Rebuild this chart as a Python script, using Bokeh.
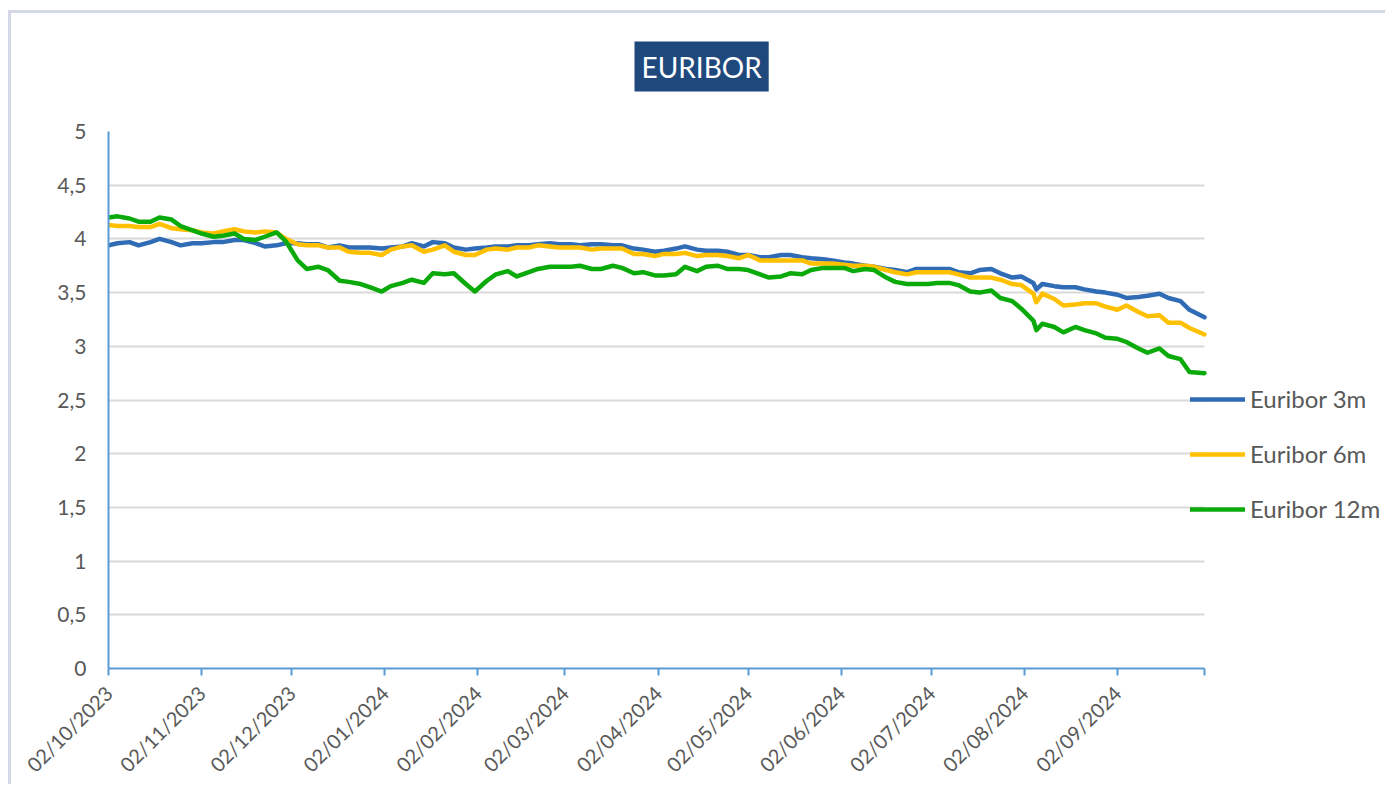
import math
import datetime as dt
from bokeh.plotting import figure
from bokeh.models import Range1d, FixedTicker, Legend, LegendItem, Title
from bokeh.embed import file_html
from bokeh.resources import INLINE

# ---------------- data ----------------
dates = [
    "2023-10-02", "2023-10-05", "2023-10-09", "2023-10-12", "2023-10-16", "2023-10-19",
    "2023-10-23", "2023-10-26", "2023-10-30", "2023-11-02", "2023-11-06", "2023-11-09",
    "2023-11-13", "2023-11-16", "2023-11-20", "2023-11-23", "2023-11-27", "2023-11-30",
    "2023-12-04", "2023-12-07", "2023-12-11", "2023-12-14", "2023-12-18", "2023-12-21",
    "2023-12-25", "2023-12-28", "2024-01-01", "2024-01-04", "2024-01-08", "2024-01-11",
    "2024-01-15", "2024-01-18", "2024-01-22", "2024-01-25", "2024-01-29", "2024-02-01",
    "2024-02-05", "2024-02-08", "2024-02-12", "2024-02-15", "2024-02-19", "2024-02-22",
    "2024-02-26", "2024-02-29", "2024-03-04", "2024-03-07", "2024-03-11", "2024-03-14",
    "2024-03-18", "2024-03-21", "2024-03-25", "2024-03-28", "2024-04-01", "2024-04-04",
    "2024-04-08", "2024-04-11", "2024-04-15", "2024-04-18", "2024-04-22", "2024-04-25",
    "2024-04-29", "2024-05-02", "2024-05-06", "2024-05-09", "2024-05-13", "2024-05-16",
    "2024-05-20", "2024-05-23", "2024-05-27", "2024-05-30", "2024-06-03", "2024-06-06",
    "2024-06-10", "2024-06-13", "2024-06-17", "2024-06-20", "2024-06-24", "2024-06-27",
    "2024-07-01", "2024-07-04", "2024-07-08", "2024-07-11", "2024-07-15", "2024-07-18",
    "2024-07-22", "2024-07-25", "2024-07-29", "2024-08-01", "2024-08-05", "2024-08-06",
    "2024-08-08", "2024-08-12", "2024-08-15", "2024-08-19", "2024-08-22", "2024-08-26",
    "2024-08-29", "2024-09-02", "2024-09-05", "2024-09-09", "2024-09-12", "2024-09-16",
    "2024-09-19", "2024-09-23", "2024-09-26", "2024-10-01",
]

euribor_3m = [
    3.94, 3.96, 3.97, 3.94, 3.97, 4.00, 3.97, 3.94, 3.96, 3.96, 3.97, 3.97,
    3.99, 3.99, 3.96, 3.93, 3.94, 3.96, 3.96, 3.95, 3.95, 3.92, 3.94, 3.92,
    3.92, 3.92, 3.91, 3.92, 3.93, 3.96, 3.93, 3.97, 3.96, 3.92, 3.90, 3.91,
    3.92, 3.93, 3.93, 3.94, 3.94, 3.95, 3.96, 3.95, 3.95, 3.94, 3.95, 3.95,
    3.94, 3.94, 3.91, 3.90, 3.88, 3.89, 3.91, 3.93, 3.90, 3.89, 3.89, 3.88,
    3.85, 3.85, 3.83, 3.83, 3.85, 3.85, 3.83, 3.82, 3.81, 3.80, 3.78, 3.77,
    3.75, 3.74, 3.72, 3.71, 3.69, 3.72, 3.72, 3.72, 3.72, 3.69, 3.68, 3.71,
    3.72, 3.68, 3.64, 3.65, 3.59, 3.53, 3.58, 3.56, 3.55, 3.55, 3.53, 3.51,
    3.50, 3.48, 3.45, 3.46, 3.47, 3.49, 3.45, 3.42, 3.34, 3.27,
]

euribor_6m = [
    4.13, 4.12, 4.12, 4.11, 4.11, 4.14, 4.10, 4.09, 4.08, 4.06, 4.05, 4.07,
    4.09, 4.07, 4.06, 4.07, 4.06, 4.00, 3.95, 3.94, 3.94, 3.92, 3.92, 3.88,
    3.87, 3.87, 3.85, 3.90, 3.93, 3.94, 3.88, 3.90, 3.94, 3.88, 3.85, 3.85,
    3.90, 3.91, 3.90, 3.92, 3.92, 3.94, 3.93, 3.92, 3.92, 3.92, 3.90, 3.91,
    3.91, 3.91, 3.86, 3.86, 3.84, 3.86, 3.86, 3.87, 3.84, 3.85, 3.85, 3.84,
    3.82, 3.85, 3.80, 3.80, 3.80, 3.80, 3.80, 3.77, 3.77, 3.77, 3.76, 3.75,
    3.75, 3.74, 3.71, 3.69, 3.67, 3.69, 3.69, 3.69, 3.69, 3.67, 3.64, 3.64,
    3.64, 3.62, 3.58, 3.57, 3.49, 3.41, 3.49, 3.44, 3.38, 3.39, 3.40, 3.40,
    3.37, 3.34, 3.38, 3.32, 3.28, 3.29, 3.22, 3.22, 3.17, 3.11,
]

euribor_12m = [
    4.20, 4.21, 4.19, 4.16, 4.16, 4.20, 4.18, 4.12, 4.08, 4.05, 4.02, 4.03,
    4.05, 4.00, 3.99, 4.02, 4.06, 3.98, 3.80, 3.72, 3.74, 3.71, 3.61, 3.60,
    3.58, 3.55, 3.51, 3.56, 3.59, 3.62, 3.59, 3.68, 3.67, 3.68, 3.58, 3.51,
    3.61, 3.67, 3.70, 3.65, 3.69, 3.72, 3.74, 3.74, 3.74, 3.75, 3.72, 3.72,
    3.75, 3.73, 3.68, 3.69, 3.66, 3.66, 3.67, 3.74, 3.70, 3.74, 3.75, 3.72,
    3.72, 3.71, 3.67, 3.64, 3.65, 3.68, 3.67, 3.71, 3.73, 3.73, 3.73, 3.70,
    3.72, 3.71, 3.64, 3.60, 3.58, 3.58, 3.58, 3.59, 3.59, 3.57, 3.51, 3.50,
    3.52, 3.45, 3.42, 3.35, 3.24, 3.15, 3.21, 3.18, 3.13, 3.18, 3.15, 3.12,
    3.08, 3.07, 3.04, 2.98, 2.94, 2.98, 2.91, 2.88, 2.76, 2.75,
]

series_names = ["Euribor 3m", "Euribor 6m", "Euribor 12m"]
series_colors = ["#2F6CB5", "#FFC000", "#0BAA0B"]

x_tick_labels = [
    "02/10/2023", "02/11/2023", "02/12/2023", "02/01/2024", "02/02/2024", "02/03/2024",
    "02/04/2024", "02/05/2024", "02/06/2024", "02/07/2024", "02/08/2024", "02/09/2024",
]
y_ticks = [0, 0.5, 1, 1.5, 2, 2.5, 3, 3.5, 4, 4.5, 5]
title_text = "EURIBOR"

# ---------------- helpers ----------------
EPOCH = dt.datetime(1970, 1, 1)


def to_dt(s):
    return dt.datetime.strptime(s, "%Y-%m-%d")


def to_ms(d):
    return (d - EPOCH).total_seconds() * 1000.0


x_vals = [to_dt(s) for s in dates]
tick_dts = [dt.datetime.strptime(s, "%d/%m/%Y") for s in x_tick_labels]
tick_ms = [to_ms(d) for d in tick_dts]
start_ms = to_ms(x_vals[0])
end_ms = to_ms(x_vals[-1])

AXIS_BLUE = "#5B9BD5"
TEXT_GREY = "#595959"
FONT = "Lato"

W, H = 1377, 774
DATA_PX = 1096      # width in px of the dated part of the plot area
EXTRA_PX = 181      # free room to the right of it, for the legend
range_end = end_ms + (end_ms - start_ms) * EXTRA_PX / DATA_PX

p = figure(
    width=W, height=H,
    x_axis_type="datetime",
    x_range=Range1d(start_ms, range_end),
    y_range=Range1d(0, 5),
    output_backend="svg",
    toolbar_location=None,
    min_border_left=97, min_border_right=3,
    min_border_top=118, min_border_bottom=119,
)
p.styles = {
    "border-top": "3px solid #D4D8E6",
    "border-left": "3px solid #D4D8E6",
    "margin-top": "10px",
    "margin-left": "8px",
}
p.outline_line_color = None
p.background_fill_color = "white"
p.border_fill_color = "white"

# spacer between the title box and the plot area
spacer = Title(text=" ", text_font_size="1px", standoff=32)
p.add_layout(spacer, "above")

# title
p.title.text = title_text
p.title.align = "left"
p.title.offset = 526
p.title.standoff = 10
p.title.text_color = "white"
p.title.text_font = FONT
p.title.text_font_style = "normal"
p.title.text_font_size = "28px"
p.title.background_fill_color = "#1F497D"
p.title.padding = dict(left=7, right=7, top=8, bottom=8)

# x axis
p.xaxis.bounds = (start_ms, end_ms)
p.xaxis.ticker = FixedTicker(ticks=tick_ms + [end_ms])
overrides = {ms: lab for ms, lab in zip(tick_ms, x_tick_labels)}
overrides[end_ms] = ""
p.xaxis.major_label_overrides = overrides
p.xaxis.major_label_orientation = math.pi / 4
p.xaxis.axis_line_color = AXIS_BLUE
p.xaxis.axis_line_width = 2
p.xaxis.major_tick_line_color = AXIS_BLUE
p.xaxis.major_tick_line_width = 2
p.xaxis.major_tick_in = 0
p.xaxis.major_tick_out = 7
p.xaxis.minor_tick_line_color = None
p.xaxis.major_label_text_font = FONT
p.xaxis.major_label_text_font_size = "20px"
p.xaxis.major_label_text_color = TEXT_GREY
p.xaxis.major_label_standoff = 14

# y axis
p.yaxis.ticker = FixedTicker(ticks=y_ticks)
p.yaxis.major_label_overrides = {t: (f"{t:g}").replace(".", ",") for t in y_ticks}
p.yaxis.axis_line_color = AXIS_BLUE
p.yaxis.axis_line_width = 2
p.yaxis.major_tick_line_color = None
p.yaxis.minor_tick_line_color = None
p.yaxis.major_label_text_font = FONT
p.yaxis.major_label_text_font_size = "21px"
p.yaxis.major_label_text_color = TEXT_GREY
p.yaxis.major_label_standoff = 16

# grid
p.xgrid.visible = False
p.ygrid.ticker = FixedTicker(ticks=y_ticks)
p.ygrid.grid_line_color = "#D9D9D9"
p.ygrid.grid_line_width = 2
p.ygrid.cross_bounds = (start_ms, end_ms)

# lines
renderers = []
for name, vals, col in zip(series_names, [euribor_3m, euribor_6m, euribor_12m], series_colors):
    r = p.line(x_vals, vals, line_color=col, line_width=4.5, line_join="round", line_cap="round")
    renderers.append(r)

legend = Legend(
    items=[LegendItem(label=n, renderers=[r]) for n, r in zip(series_names, renderers)],
    location=(1082, 145),
    orientation="vertical",
    glyph_width=55, glyph_height=20, label_height=20,
    spacing=26, padding=0, margin=0, label_standoff=5,
    background_fill_alpha=0, border_line_alpha=0,
    label_text_color=TEXT_GREY, label_text_font=FONT, label_text_font_size="24px",
)
p.add_layout(legend)

open("out.html", "w").write(file_html(p, INLINE))
